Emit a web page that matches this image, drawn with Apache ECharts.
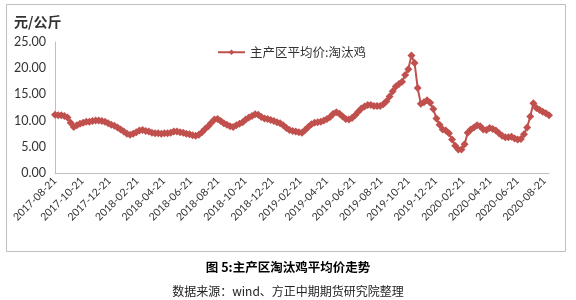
<!DOCTYPE html>
<html><head><meta charset="utf-8">
<script src="https://cdn.jsdelivr.net/npm/echarts@6/dist/echarts.min.js"></script>
<style>html,body{margin:0;padding:0;background:#fff}#c{width:576px;height:300px}</style>
</head><body><div id="c"></div>
<script>
// weekly series start date and values (元/公斤)
const startDate = [2017, 8, 21];
const prices = [
11.1,11.0,11.0,10.9,10.6,9.6,8.8,9.1,9.4,9.6,
9.8,9.8,9.9,10.0,10.0,9.9,9.8,9.5,9.2,9.0,
8.7,8.3,7.9,7.5,7.3,7.5,7.8,8.1,8.2,8.0,
7.9,7.7,7.6,7.6,7.5,7.6,7.6,7.7,7.9,7.9,
7.8,7.7,7.5,7.4,7.2,7.1,7.3,7.8,8.4,8.9,
9.6,10.2,10.3,9.9,9.5,9.2,8.9,8.8,9.1,9.4,
9.7,10.2,10.6,10.9,11.2,11.1,10.7,10.4,10.3,10.1,
9.9,9.7,9.5,9.1,8.6,8.2,8.0,7.9,7.8,7.7,
8.2,8.8,9.3,9.6,9.7,9.8,10.0,10.3,10.7,11.3,
11.6,11.3,10.8,10.3,10.2,10.5,11.0,11.7,12.3,12.7,
13.0,13.0,12.8,12.8,12.8,13.1,13.7,14.6,15.6,16.5,
17.0,17.4,18.7,19.8,22.4,21.0,16.2,13.2,13.5,13.9,
13.4,12.2,10.4,9.2,8.3,8.1,7.6,6.4,5.2,4.5,
4.5,5.5,7.7,8.3,8.7,9.1,8.9,8.3,8.2,8.6,
8.4,8.1,7.6,7.1,6.8,6.8,6.9,6.6,6.4,6.5,
7.4,8.7,10.8,13.3,12.4,12.0,11.7,11.4,11.0
];
const tickLabels = ['2017-08-21','2017-10-21','2017-12-21','2018-02-21','2018-04-21','2018-06-21',
'2018-08-21','2018-10-21','2018-12-21','2019-02-21','2019-04-21','2019-06-21',
'2019-08-21','2019-10-21','2019-12-21','2020-02-21','2020-04-21','2020-06-21','2020-08-21'];
const seriesName = '主产区平均价:淘汰鸡';

const DAY = 86400000;
const t0 = Date.UTC(startDate[0], startDate[1]-1, startDate[2]);
function dayOf(s){const p=s.split('-').map(Number);return Math.round((Date.UTC(p[0],p[1]-1,p[2])-t0)/DAY);}
function pad(n){return (n<10?'0':'')+n;}
function fmt(d){const t=new Date(t0+Math.round(d)*DAY);return t.getUTCFullYear()+'-'+pad(t.getUTCMonth()+1)+'-'+pad(t.getUTCDate());}
const data = prices.map((v,i)=>[7*i, v]);
const tickVals = tickLabels.map(dayOf);

const ff = 'Lato, "Noto Sans CJK SC", sans-serif';
const chart = echarts.init(document.getElementById('c'), null, {renderer:'canvas'});
chart.setOption({
  animation:false,
  backgroundColor:'#fff',
  graphic:[
    {type:'rect', shape:{x:6.5,y:4.5,width:559,height:247}, style:{fill:'none',stroke:'#bfbfbf',lineWidth:1}, z:-1},
    {type:'text', left:14, top:15, style:{text:'元/公斤', font:'bold 14px "Noto Sans CJK SC"', fill:'#333'}},
    {type:'text', left:'center', top:261, style:{text:'图 5:主产区淘汰鸡平均价走势', font:'bold 12.5px "Noto Sans CJK SC"', fill:'#000'}},
    {type:'text', left:'center', top:285, style:{text:'数据来源：wind、方正中期期货研究院整理', font:'12px "Noto Sans CJK SC"', fill:'#222'}}
  ],
  legend:{
    top:41, left:212, itemWidth:27, itemHeight:7, itemGap:4,
    textStyle:{fontFamily:'"Noto Sans CJK SC"', fontSize:12.5, color:'#333'},
    data:[seriesName]
  },
  grid:{left:55, right:27, top:42, bottom:127},
  xAxis:{
    type:'value',
    min:0, max:data[data.length-1][0],
    axisLine:{lineStyle:{color:'#bfbfbf'}},
    axisTick:{show:false},
    splitLine:{show:false},
    axisLabel:{
      customValues:tickVals,
      rotate:45, fontSize:10.5, color:'#333', fontFamily:ff, margin:6,
      formatter:function(v){return fmt(v);}
    }
  },
  yAxis:{
    type:'value', min:0, max:25, interval:5,
    axisLine:{show:true, lineStyle:{color:'#bfbfbf'}},
    axisTick:{show:false},
    splitLine:{show:false},
    axisLabel:{fontSize:12.5, color:'#333', fontFamily:ff, margin:9, formatter:v=>v.toFixed(2)}
  },
  series:[{
    name:seriesName, type:'line', data:data,
    symbol:'diamond', symbolSize:8, showAllSymbol:true,
    lineStyle:{color:'#c0504d', width:2},
    itemStyle:{color:'#c0504d'}
  }]
});
</script></body></html>
